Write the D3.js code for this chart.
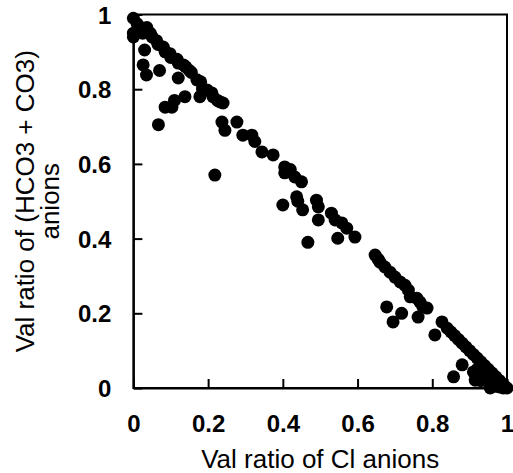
<!DOCTYPE html>
<html>
<head>
<meta charset="utf-8">
<script src="https://cdn.jsdelivr.net/npm/d3@7/dist/d3.min.js"></script>
<style>
  html, body { margin: 0; padding: 0; background: #fff; }
  svg { display: block; }
  text { font-family: "Liberation Sans", Arial, sans-serif; fill: #000; }
</style>
</head>
<body>
<div id="chart"></div>
<script>
// Val ratio of Cl anions (x)
const clRatio = [
  0.00, 0.00, 0.00, 0.01, 0.015, 0.02, 0.025, 0.03, 0.036, 0.045,
  0.03, 0.026, 0.035, 0.05, 0.062, 0.066, 0.07, 0.08, 0.085, 0.098,
  0.10, 0.117, 0.12, 0.12, 0.134, 0.14, 0.15, 0.155, 0.17, 0.18,
  0.185, 0.197, 0.21, 0.213, 0.225, 0.232, 0.24, 0.067, 0.085, 0.103,
  0.11, 0.138, 0.178, 0.218, 0.237, 0.245, 0.277, 0.293, 0.317, 0.325,
  0.344, 0.374, 0.405, 0.405, 0.42, 0.432, 0.45, 0.437, 0.40, 0.44,
  0.453, 0.49, 0.495, 0.495, 0.53, 0.54, 0.558, 0.571, 0.593, 0.547,
  0.467, 0.647, 0.655, 0.66, 0.673, 0.687, 0.70, 0.714, 0.727, 0.736,
  0.741, 0.759, 0.767, 0.775, 0.786, 0.678, 0.695, 0.718, 0.762, 0.826,
  0.807, 0.84, 0.85, 0.86, 0.87, 0.88, 0.89, 0.90, 0.91, 0.92,
  0.93, 0.94, 0.95, 0.96, 0.97, 0.98, 0.99, 1.00, 0.88, 0.857,
  0.91, 0.915, 0.93, 0.94, 0.95, 0.955, 0.96, 0.97, 0.98, 0.99,
  0.92, 0.945, 0.965
];
// Val ratio of (HCO3 + CO3) anions (y)
const hco3Ratio = [
  0.99, 0.95, 0.94, 0.975, 0.96, 0.965, 0.95, 0.96, 0.965, 0.95,
  0.905, 0.865, 0.838, 0.94, 0.93, 0.92, 0.85, 0.913, 0.90, 0.895,
  0.885, 0.88, 0.87, 0.83, 0.865, 0.86, 0.85, 0.845, 0.825, 0.82,
  0.80, 0.798, 0.79, 0.78, 0.77, 0.766, 0.763, 0.705, 0.752, 0.752,
  0.77, 0.78, 0.78, 0.57, 0.712, 0.69, 0.712, 0.677, 0.677, 0.66,
  0.632, 0.624, 0.592, 0.576, 0.585, 0.565, 0.552, 0.512, 0.49, 0.50,
  0.477, 0.503, 0.485, 0.45, 0.468, 0.45, 0.442, 0.428, 0.404, 0.401,
  0.39, 0.356, 0.345, 0.337, 0.324, 0.31, 0.297, 0.284, 0.275, 0.262,
  0.244, 0.24, 0.23, 0.217, 0.214, 0.217, 0.177, 0.20, 0.19, 0.177,
  0.142, 0.16, 0.15, 0.14, 0.13, 0.12, 0.11, 0.10, 0.09, 0.08,
  0.07, 0.06, 0.05, 0.04, 0.03, 0.02, 0.01, 0.00, 0.062, 0.03,
  0.043, 0.021, 0.02, 0.03, 0.02, 0.00, 0.01, 0.005, 0.003, 0.00,
  0.05, 0.04, 0.015
];
const xTicks = [0, 0.2, 0.4, 0.6, 0.8, 1];
const yTicks = [0, 0.2, 0.4, 0.6, 0.8, 1];
const xTitle = "Val ratio of Cl anions";
const yTitleLines = ["Val ratio of (HCO3 + CO3)", "anions"];

const W = 513, H = 473;
const m = { left: 133.4, right: 6, top: 14.5, bottom: 85 };
const x = d3.scaleLinear().domain([0, 1]).range([m.left, W - m.right]);
const y = d3.scaleLinear().domain([0, 1]).range([H - m.bottom, m.top]);

const svg = d3.select("#chart").append("svg").attr("width", W).attr("height", H);

const pts = clRatio.map((v, i) => ({ x: v, y: hco3Ratio[i] }));
svg.append("g").selectAll("circle").data(pts).join("circle")
  .attr("cx", d => x(d.x)).attr("cy", d => y(d.y)).attr("r", 6.5).attr("fill", "#000");

// frame
svg.append("rect")
  .attr("x", x(0)).attr("y", y(1))
  .attr("width", x(1) - x(0)).attr("height", y(0) - y(1))
  .attr("fill", "none").attr("stroke", "#000").attr("stroke-width", 2);

const fmt = d => d === 0 ? "0" : d === 1 ? "1" : d3.format(".1f")(d);

const xAxis = svg.append("g").attr("transform", `translate(0,${y(0)})`)
  .call(d3.axisBottom(x).tickValues(xTicks).tickFormat(fmt).tickSizeInner(-9).tickSizeOuter(0).tickPadding(27));
const yAxis = svg.append("g").attr("transform", `translate(${x(0)},0)`)
  .call(d3.axisLeft(y).tickValues(yTicks).tickFormat(fmt).tickSizeInner(-9).tickSizeOuter(0).tickPadding(22));
[xAxis, yAxis].forEach(g => {
  g.select(".domain").attr("stroke", "#000").attr("stroke-width", 2);
  g.selectAll(".tick line").attr("stroke", "#000").attr("stroke-width", 2);
  g.selectAll(".tick text").attr("font-size", 24).attr("font-weight", "bold")
    .attr("font-family", "'Liberation Sans', Arial, sans-serif").attr("fill", "#000");
});
yAxis.selectAll(".tick text").attr("dy", "0.36em");

svg.append("text").attr("x", (x(0) + x(1)) / 2).attr("y", 468)
  .attr("text-anchor", "middle").attr("font-size", 26).text(xTitle);

const cy = (y(0) + y(1)) / 2;
yTitleLines.forEach((t, i) => {
  svg.append("text")
    .attr("transform", `translate(${34 + i * 25},${cy}) rotate(-90)`)
    .attr("text-anchor", "middle").attr("font-size", 26).text(t);
});
</script>
</body>
</html>
